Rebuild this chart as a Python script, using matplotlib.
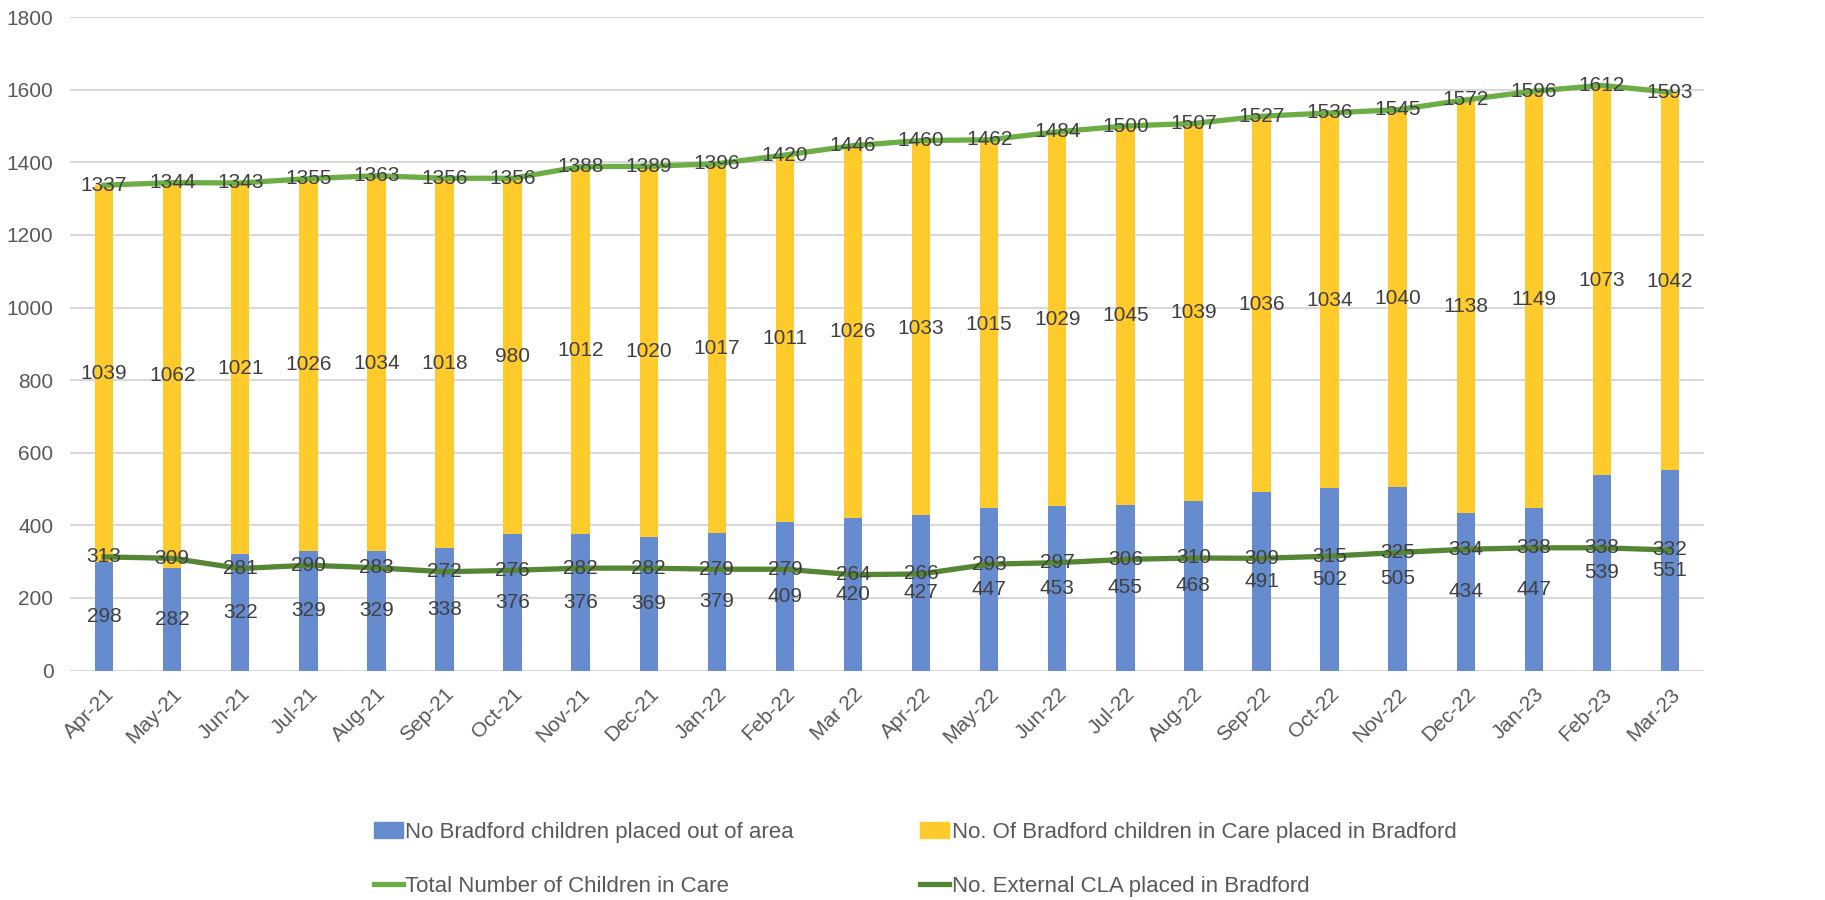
import matplotlib
matplotlib.use("Agg")
import matplotlib.pyplot as plt
import numpy as np
from matplotlib.lines import Line2D
from matplotlib.patches import Patch

# ================= DATA =================
months = ["Apr-21", "May-21", "Jun-21", "Jul-21", "Aug-21", "Sep-21", "Oct-21",
          "Nov-21", "Dec-21", "Jan-22", "Feb-22", "Mar 22", "Apr-22", "May-22",
          "Jun-22", "Jul-22", "Aug-22", "Sep-22", "Oct-22", "Nov-22", "Dec-22",
          "Jan-23", "Feb-23", "Mar-23"]
out_of_area = [298, 282, 322, 329, 329, 338, 376, 376, 369, 379, 409, 420,
               427, 447, 453, 455, 468, 491, 502, 505, 434, 447, 539, 551]
in_bradford = [1039, 1062, 1021, 1026, 1034, 1018, 980, 1012, 1020, 1017, 1011, 1026,
               1033, 1015, 1029, 1045, 1039, 1036, 1034, 1040, 1138, 1149, 1073, 1042]
total_cic = [1337, 1344, 1343, 1355, 1363, 1356, 1356, 1388, 1389, 1396, 1420, 1446,
             1460, 1462, 1484, 1500, 1507, 1527, 1536, 1545, 1572, 1596, 1612, 1593]
external_cla = [313, 309, 281, 290, 283, 272, 276, 282, 282, 279, 279, 264,
                266, 293, 297, 306, 310, 309, 315, 325, 334, 338, 338, 332]

# ================= STYLE =================
plt.rcParams["font.family"] = ["Liberation Sans Narrow", "Liberation Sans", "DejaVu Sans"]
BLUE = "#668BCE"
YELLOW = "#FFCA2C"
LIGHT_GREEN = "#6DAD45"
DARK_GREEN = "#558633"
LABEL = "#404040"
TICK = "#595959"
FS = 15
LW = 3.8

fig = plt.figure(figsize=(18.25, 9), dpi=100)
ax = fig.add_axes([0.0384, 0.255, 0.8953, 0.726])

x = np.arange(len(months))
w = 0.27
ax.bar(x, out_of_area, w, color=BLUE, zorder=2)
ax.bar(x, in_bradford, w, bottom=out_of_area, color=YELLOW, zorder=2)
ax.plot(x, total_cic, color=LIGHT_GREEN, lw=LW, zorder=3)
ax.plot(x, external_cla, color=DARK_GREEN, lw=LW, zorder=3)

# ================= DATA LABELS =================
for i in x:
    ax.text(i, out_of_area[i] / 2, str(out_of_area[i]), ha="center", va="center",
            fontsize=FS, color=LABEL, zorder=4)
    ax.text(i, out_of_area[i] + in_bradford[i] / 2, str(in_bradford[i]), ha="center",
            va="center", fontsize=FS, color=LABEL, zorder=4)
    ax.text(i, total_cic[i], str(total_cic[i]), ha="center", va="center",
            fontsize=FS, color=LABEL, zorder=4)
    ax.text(i, external_cla[i], str(external_cla[i]), ha="center", va="center",
            fontsize=FS, color=LABEL, zorder=4)

# ================= AXES =================
ax.set_xlim(-0.5, len(months) - 0.5)
ax.set_ylim(0, 1800)
ax.set_yticks(range(0, 1801, 200))
ax.yaxis.grid(True, color="#D9D9D9", lw=1.5, zorder=0)
ax.set_axisbelow(True)
for s in ax.spines.values():
    s.set_visible(False)
ax.tick_params(axis="both", length=0, labelsize=FS, colors=TICK)
ax.tick_params(axis="y", pad=12)
ax.set_xticks(x)
ax.set_xticklabels(months, rotation=45, ha="right", va="top", rotation_mode="anchor")
ax.tick_params(axis="x", pad=10)

# ================= LEGEND =================
# column-wise fill: blue, total | yellow, external
handles = [Patch(color=BLUE), Line2D([], [], color=LIGHT_GREEN, lw=LW),
           Patch(color=YELLOW), Line2D([], [], color=DARK_GREEN, lw=LW)]
names = ["No Bradford children placed out of area",
         "Total Number of Children in Care",
         "No. Of Bradford children in Care placed in Bradford",
         "No. External CLA placed in Bradford"]
fig.legend(handles, names, ncol=2, loc="lower left", bbox_to_anchor=(0.194, -0.019),
           frameon=False, fontsize=16, labelcolor=TICK, handlelength=1.3,
           handletextpad=0.1, columnspacing=5.7, labelspacing=1.5)

fig.savefig("out.png", dpi=100)
